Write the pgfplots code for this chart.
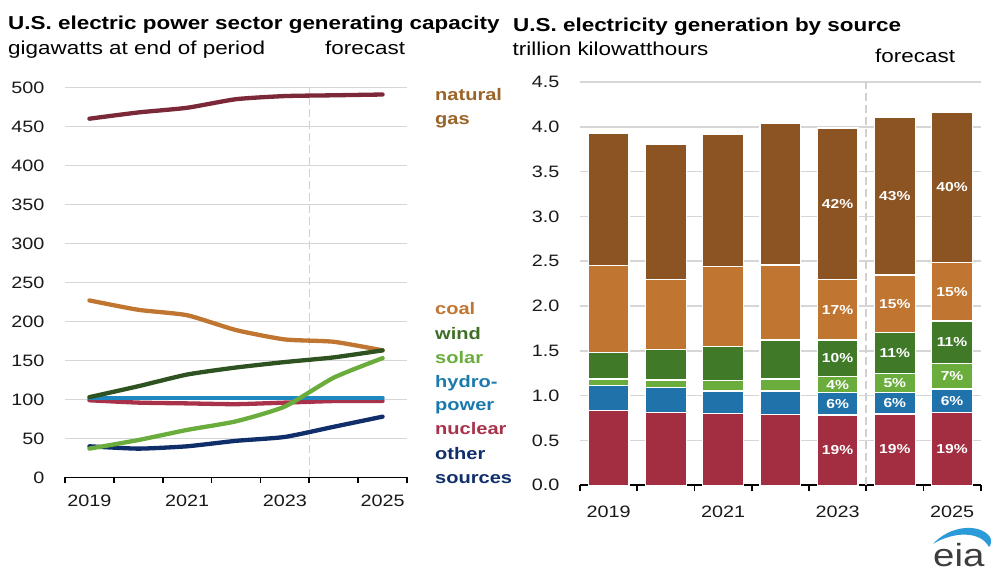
\documentclass[border=0pt]{standalone}
\usepackage{fontspec}
\setmainfont{Liberation Sans}[FakeStretch=1.2]
\usepackage{pgfplots}
\usepackage{pgfplotstable}
\pgfplotsset{compat=1.18}

\definecolor{ngline}{HTML}{7B2838}
\definecolor{ngbar}{HTML}{8B5422}
\definecolor{nglab}{HTML}{9A6428}
\definecolor{coalc}{HTML}{C07530}
\definecolor{windline}{HTML}{2E5220}
\definecolor{windbar}{HTML}{407A28}
\definecolor{windlab}{HTML}{3F6F26}
\definecolor{solarc}{HTML}{6AAD3C}
\definecolor{hydroline}{HTML}{1E88C0}
\definecolor{hydrobar}{HTML}{1F72AA}
\definecolor{nucc}{HTML}{A8324A}
\definecolor{nucbar}{HTML}{A32E41}
\definecolor{otherc}{HTML}{0F2E6A}
\definecolor{gridgray}{HTML}{D6D6D6}
\definecolor{fcgray}{HTML}{D0D0D0}
\definecolor{eiagray}{HTML}{3D3D3D}
\definecolor{eiablue}{HTML}{2A9AD8}

% generating capacity, GW (x = 0..6 for 2019..2025)
\pgfplotstableread{
year gas coal wind solar hydro nuclear other
2019 460 227 103 37 102 99 40
2020 468 215 117 48 102 96 37
2021 474 208 132 61 102 95 40
2022 485 189 141 72 102 94 47
2023 489 177 148 91 102 96 52
2024 490 174 154 128 102 98 65
2025 491 163 163 153 102 98 78
}\capdata

% generation, trillion kWh (segment heights)
\pgfplotstableread{
year nuclear hydro solar wind coal gas
2019 0.832 0.283 0.070 0.298 0.965 1.476
2020 0.814 0.278 0.082 0.342 0.780 1.505
2021 0.802 0.249 0.115 0.379 0.892 1.476
2022 0.791 0.260 0.134 0.435 0.836 1.580
2023 0.784 0.249 0.178 0.409 0.676 1.691
2024 0.795 0.242 0.212 0.453 0.643 1.765
2025 0.814 0.260 0.286 0.472 0.654 1.679
}\gendata

\tikzset{pct/.style={text=white, inner sep=0pt, font=\fontsize{13}{14}\selectfont\bfseries},
  lab/.style={anchor=base west, inner sep=0pt, font=\fontsize{16.7}{18}\selectfont\bfseries}}

\pgfplotsset{
  myaxis/.style={
    scale only axis, anchor=south west,
    axis x line*=bottom, axis y line*=left,
    y axis line style={draw=none},
    x axis line style={line width=1.6pt, black, -},
    xmin=-0.5, xmax=6.5,
    xtick={0,...,6},
    xticklabels={2019,,2021,,2023,,2025},
    minor xtick={-0.5,0.5,...,6.5},
    major tick length=0pt, minor tick length=6pt,
    tick align=outside,
    minor tick style={line width=1.6pt, black},
    ymajorgrids,
    grid style={line width=1.6pt, gridgray},
    tick label style={font=\fontsize{16.5}{18}\selectfont, text=black!90},
    /pgf/number format/assume math mode=true,
    yticklabel style={xshift=-17pt},
    clip=false,
  },
  capline/.style={line width=4.3pt, line cap=round, line join=round, smooth, tension=0.35},
  seg/.style={fill=#1, draw=white, line width=1.3pt},
}

\begin{document}
\begin{tikzpicture}
\path[use as bounding box] (0pt,0pt) rectangle (1000pt,577pt);

% titles
\node[anchor=base west, inner sep=0pt, font=\fontsize{18.7}{20}\selectfont\bfseries] at (8pt,547pt) {U.S. electric power sector generating capacity};
\node[anchor=base west, inner sep=0pt, font=\fontsize{18.7}{20}\selectfont] at (8pt,522pt) {gigawatts at end of period};
\node[anchor=base west, inner sep=0pt, font=\fontsize{18.7}{20}\selectfont] at (325pt,522pt) {forecast};
\node[anchor=base west, inner sep=0pt, font=\fontsize{18.7}{20}\selectfont\bfseries] at (513pt,545pt) {U.S. electricity generation by source};
\node[anchor=base west, inner sep=0pt, font=\fontsize{18.7}{20}\selectfont] at (512.5pt,521pt) {trillion kilowatthours};
\node[anchor=base west, inner sep=0pt, font=\fontsize{18.7}{20}\selectfont] at (875pt,514pt) {forecast};

% left chart
\begin{axis}[myaxis, at={(65pt,99.5pt)}, width=342pt, height=390pt,
  ymin=0, ymax=500, ytick={0,50,...,500}, xticklabel style={yshift=-14pt}]
\addplot[fcgray, line width=1.5pt, dash pattern=on 8pt off 4pt] coordinates {(4.5,0) (4.5,500)};
\addplot[capline, ngline] table[x expr=\coordindex, y=gas] {\capdata};
\addplot[capline, coalc] table[x expr=\coordindex, y=coal] {\capdata};
\addplot[capline, nucc] table[x expr=\coordindex, y=nuclear] {\capdata};
\addplot[capline, hydroline] table[x expr=\coordindex, y=hydro] {\capdata};
\addplot[capline, otherc] table[x expr=\coordindex, y=other] {\capdata};
\addplot[capline, solarc] table[x expr=\coordindex, y=solar] {\capdata};
\addplot[capline, windline] table[x expr=\coordindex, y=wind] {\capdata};
\end{axis}

% legend labels
\node[lab, text=nglab] at (435pt,476.3pt) {natural};
\node[lab, text=nglab] at (435pt,452pt) {gas};
\node[lab, text=coalc] at (435pt,262pt) {coal};
\node[lab, text=windlab] at (435pt,237.7pt) {wind};
\node[lab, text=solarc] at (435pt,213.7pt) {solar};
\node[lab, text=hydroline!90!black] at (435pt,189.7pt) {hydro-};
\node[lab, text=hydroline!90!black] at (435pt,166pt) {power};
\node[lab, text=nucc] at (435pt,142pt) {nuclear};
\node[lab, text=otherc] at (435pt,117.5pt) {other};
\node[lab, text=otherc] at (435pt,93.7pt) {sources};

% right chart
\begin{axis}[myaxis, at={(580pt,91.7pt)}, width=400.7pt, height=403.4pt,
  ymin=0, ymax=4.5, ytick={0,0.5,...,4.5}, xticklabel style={yshift=-17pt},
  yticklabel style={/pgf/number format/.cd, fixed, fixed zerofill, precision=1},
  ybar stacked, bar width=40.7pt]
\addplot[seg=nucbar] table[x expr=\coordindex, y=nuclear] {\gendata};
\addplot[seg=hydrobar] table[x expr=\coordindex, y=hydro] {\gendata};
\addplot[seg=solarc] table[x expr=\coordindex, y=solar] {\gendata};
\addplot[seg=windbar] table[x expr=\coordindex, y=wind] {\gendata};
\addplot[seg=coalc] table[x expr=\coordindex, y=coal] {\gendata};
\addplot[seg=ngbar] table[x expr=\coordindex, y=gas] {\gendata};
\end{axis}

\begin{axis}[scale only axis, anchor=south west, at={(580pt,91.7pt)}, width=400.7pt, height=403.4pt,
  xmin=-0.5, xmax=6.5, ymin=0, ymax=4.5, hide axis, clip=false]
\addplot[fcgray, line width=1.5pt, dash pattern=on 8pt off 4pt] coordinates {(4.5,0) (4.5,4.5)};
\node[pct] at (axis cs:4,0.392) {19\%};
\node[pct] at (axis cs:4,0.909) {6\%};
\node[pct] at (axis cs:4,1.122) {4\%};
\node[pct] at (axis cs:4,1.415) {10\%};
\node[pct] at (axis cs:4,1.956) {17\%};
\node[pct] at (axis cs:4,3.14) {42\%};
\node[pct] at (axis cs:5,0.400) {19\%};
\node[pct] at (axis cs:5,0.916) {6\%};
\node[pct] at (axis cs:5,1.143) {5\%};
\node[pct] at (axis cs:5,1.475) {11\%};
\node[pct] at (axis cs:5,2.024) {15\%};
\node[pct] at (axis cs:5,3.227) {43\%};
\node[pct] at (axis cs:6,0.407) {19\%};
\node[pct] at (axis cs:6,0.944) {6\%};
\node[pct] at (axis cs:6,1.217) {7\%};
\node[pct] at (axis cs:6,1.596) {11\%};
\node[pct] at (axis cs:6,2.159) {15\%};
\node[pct] at (axis cs:6,3.326) {40\%};
\end{axis}

% eia logo
\fill[eiablue] (933pt,33pt) .. controls (950pt,52pt) and (980pt,54pt) .. (990pt,40pt)
  .. controls (992pt,36pt) and (991pt,32pt) .. (989pt,30pt)
  .. controls (980pt,47pt) and (952pt,45pt) .. (933pt,33pt) -- cycle;
\node[anchor=base west, inner sep=0pt, text=eiagray, font=\fontsize{32}{32}\selectfont] at (933pt,10pt) {eia};
\end{tikzpicture}
\end{document}
